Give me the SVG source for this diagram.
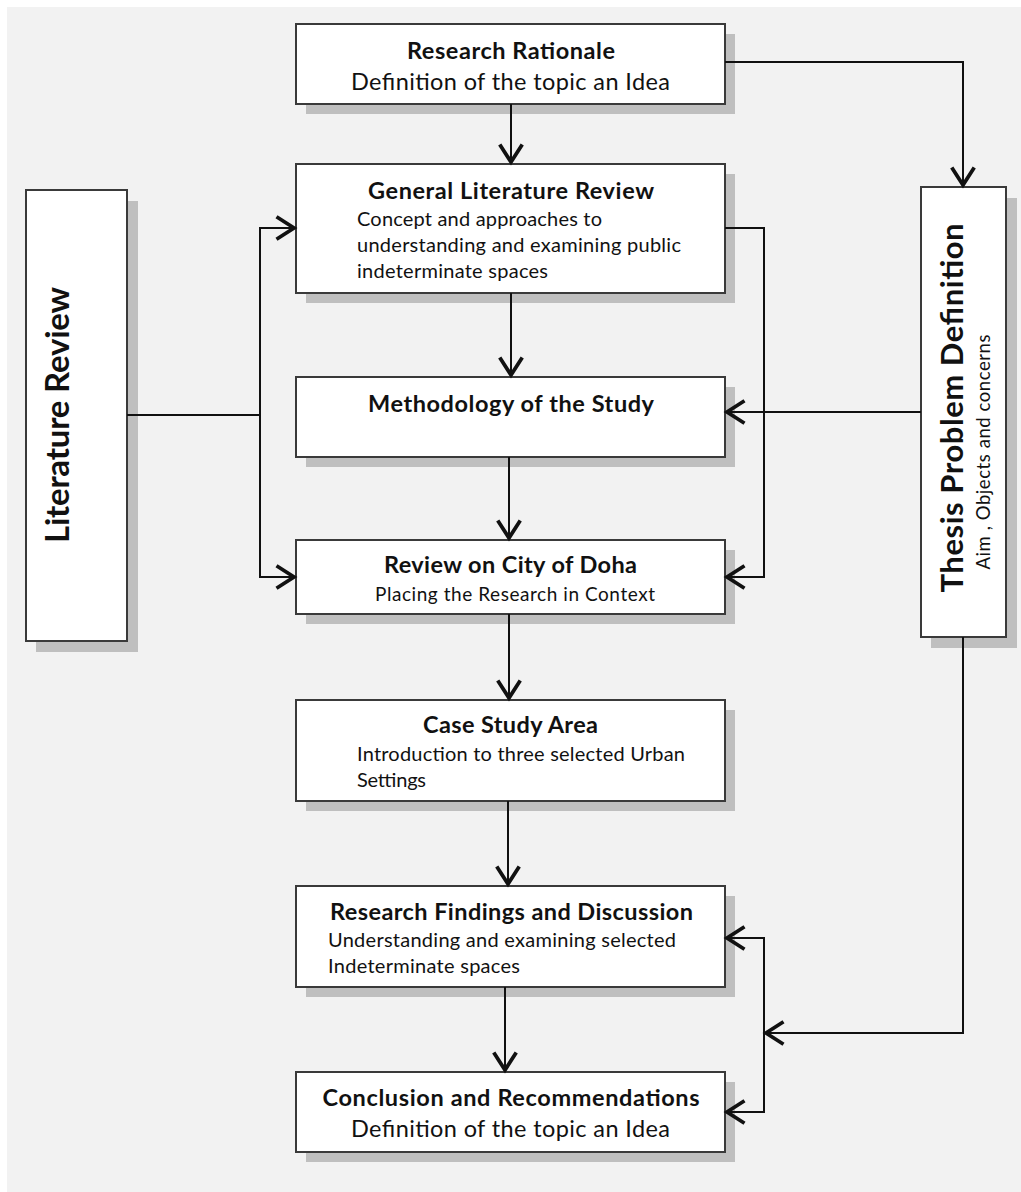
<svg xmlns="http://www.w3.org/2000/svg" width="1021" height="1192" viewBox="0 0 1021 1192">
  <style>
    .box { fill: #ffffff; stroke: #3a3a3a; stroke-width: 2; }
    .shadow { fill: #bfbfbf; }
    .t { font-family: Lato, "Open Sans", "Liberation Sans", sans-serif; fill: #111; }
    .b { font-weight: bold; }
    .c { text-anchor: middle; }
    .conn { fill: none; stroke: #111; stroke-width: 2; }
  </style>
  <defs>
    <marker id="arr" markerUnits="userSpaceOnUse" markerWidth="30" markerHeight="30" refX="0" refY="0" viewBox="-18 -12 20 24" orient="auto">
      <path d="M-14,-9 L0,0 L-14,9" fill="none" stroke="#111" stroke-width="3" stroke-linejoin="miter"/>
    </marker>
  </defs>
  <rect x="0" y="0" width="1021" height="1192" fill="#ffffff"/>
  <rect x="7" y="7" width="1014" height="1185" fill="#f2f2f2"/>

  <g id="node-research-rationale">
    <rect class="shadow" x="306" y="34" width="429" height="80"/>
    <rect class="box" x="296" y="24" width="429" height="80"/>
    <text class="t b c" x="511" y="59" font-size="23.5" textLength="208">Research Rationale</text>
    <text class="t c" x="510.5" y="90" font-size="23.5" textLength="319">Definition of the topic an Idea</text>
  </g>

  <g id="node-general-literature-review">
    <rect class="shadow" x="306" y="174" width="429" height="129"/>
    <rect class="box" x="296" y="164" width="429" height="129"/>
    <text class="t b c" x="511" y="199" font-size="23.5" textLength="286">General Literature Review</text>
    <text class="t" x="357" y="226" font-size="20" textLength="245">Concept and approaches to</text>
    <text class="t" x="357" y="252" font-size="20" textLength="324">understanding and examining public</text>
    <text class="t" x="357" y="278" font-size="20" textLength="191">indeterminate spaces</text>
  </g>

  <g id="node-methodology">
    <rect class="shadow" x="306" y="387" width="429" height="80"/>
    <rect class="box" x="296" y="377" width="429" height="80"/>
    <text class="t b c" x="511" y="412" font-size="23.5" textLength="286">Methodology of the Study</text>
  </g>

  <g id="node-review-doha">
    <rect class="shadow" x="306" y="550" width="429" height="74"/>
    <rect class="box" x="296" y="540" width="429" height="74"/>
    <text class="t b c" x="510.5" y="573" font-size="23.5" textLength="253">Review on City of Doha</text>
    <text class="t c" x="515" y="601" font-size="19" textLength="280">Placing the Research in Context</text>
  </g>

  <g id="node-case-study">
    <rect class="shadow" x="306" y="710" width="429" height="101"/>
    <rect class="box" x="296" y="700" width="429" height="101"/>
    <text class="t b c" x="510.5" y="733" font-size="23.5" textLength="175">Case Study Area</text>
    <text class="t" x="357" y="761" font-size="20" textLength="328">Introduction to three selected Urban</text>
    <text class="t" x="357" y="787" font-size="20" textLength="69">Settings</text>
  </g>

  <g id="node-research-findings">
    <rect class="shadow" x="306" y="896" width="429" height="101"/>
    <rect class="box" x="296" y="886" width="429" height="101"/>
    <text class="t b c" x="511.5" y="920" font-size="23.5" textLength="363">Research Findings and Discussion</text>
    <text class="t" x="328" y="947" font-size="20" textLength="348">Understanding and examining selected</text>
    <text class="t" x="328" y="973" font-size="20" textLength="192">Indeterminate spaces</text>
  </g>

  <g id="node-conclusion">
    <rect class="shadow" x="306" y="1082" width="429" height="80"/>
    <rect class="box" x="296" y="1072" width="429" height="80"/>
    <text class="t b c" x="511" y="1106" font-size="23.5" textLength="377">Conclusion and Recommendations</text>
    <text class="t c" x="510.5" y="1137" font-size="23.5" textLength="319">Definition of the topic an Idea</text>
  </g>

  <g id="node-literature-review">
    <rect class="shadow" x="36" y="201" width="102" height="451"/>
    <rect class="box" x="26" y="190" width="101" height="451"/>
    <text class="t b c" transform="translate(69,415) rotate(-90)" x="0" y="0" font-size="33" textLength="256">Literature Review</text>
  </g>

  <g id="node-thesis-problem">
    <rect class="shadow" x="931" y="198" width="86" height="450"/>
    <rect class="box" x="921" y="187" width="85" height="450"/>
    <text class="t b c" transform="translate(963,408) rotate(-90)" x="0" y="0" font-size="31" textLength="369">Thesis Problem Definition</text>
    <text class="t c" transform="translate(990,452) rotate(-90)" x="0" y="0" font-size="18.5" textLength="235">Aim , Objects and concerns</text>
  </g>

  <g id="connectors">
    <path class="conn" d="M511,104 V162" marker-end="url(#arr)"/>
    <path class="conn" d="M725,62 H963 V185" marker-end="url(#arr)"/>
    <path class="conn" d="M511,293 V375" marker-end="url(#arr)"/>
    <path class="conn" d="M509,457 V538" marker-end="url(#arr)"/>
    <path class="conn" d="M509,614 V698" marker-end="url(#arr)"/>
    <path class="conn" d="M508,801 V884" marker-end="url(#arr)"/>
    <path class="conn" d="M505,987 V1070" marker-end="url(#arr)"/>
    <path class="conn" d="M127,415 H260"/>
    <path class="conn" d="M260,415 V228 H294" marker-end="url(#arr)"/>
    <path class="conn" d="M260,415 V577 H294" marker-end="url(#arr)"/>
    <path class="conn" d="M725,228 H764 V577 H727" marker-end="url(#arr)"/>
    <path class="conn" d="M921,412 H727" marker-end="url(#arr)"/>
    <path class="conn" d="M963,637 V1033 H766" marker-end="url(#arr)"/>
    <path class="conn" d="M764,1033 V938 H727" marker-end="url(#arr)"/>
    <path class="conn" d="M764,1033 V1112 H727" marker-end="url(#arr)"/>
  </g>
</svg>
